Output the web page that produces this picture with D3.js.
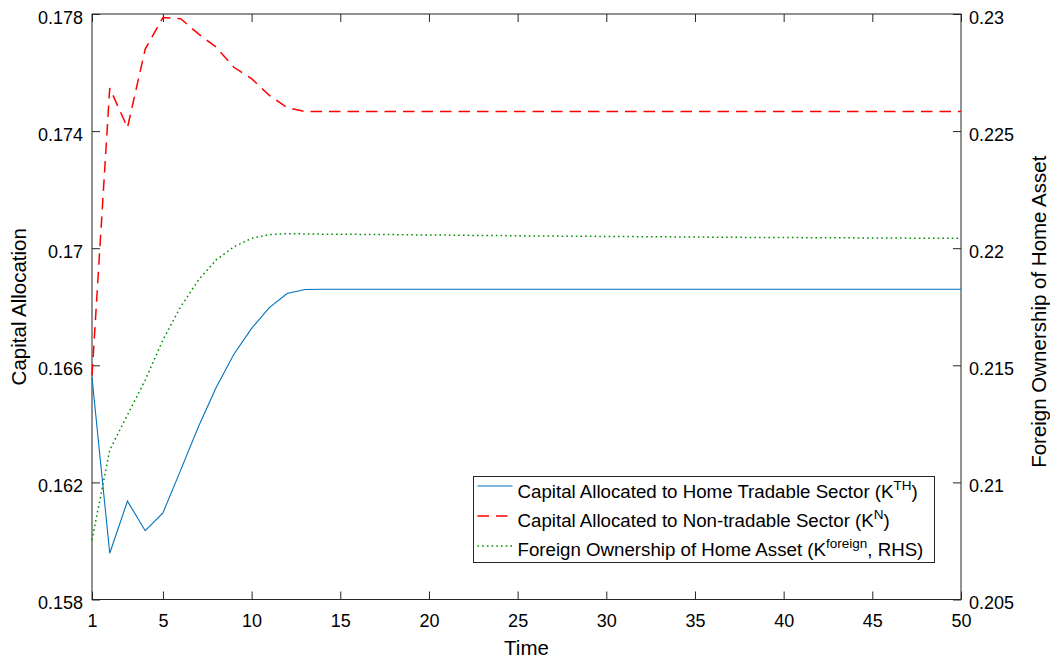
<!DOCTYPE html>
<html>
<head>
<meta charset="utf-8">
<script src="https://cdn.jsdelivr.net/npm/d3@7"></script>
<style>
body { margin: 0; background: #fff; }
svg text { font-family: "Liberation Sans", Arial, Helvetica, sans-serif; fill: #000; }
</style>
</head>
<body>
<svg id="chart" width="1050" height="663"></svg>
<script>
// ---- data ----
const time = d3.range(1, 51);
const kTH = [0.16558, 0.15958, 0.16136, 0.16035, 0.16096, 0.16242, 0.16390, 0.16524, 0.16638, 0.16726,
  0.16797, 0.16845, 0.16859, 0.16860, 0.16860, 0.16860, 0.16860, 0.16860, 0.16860, 0.16860,
  0.16860, 0.16860, 0.16860, 0.16860, 0.16860, 0.16860, 0.16860, 0.16860, 0.16860, 0.16860,
  0.16860, 0.16860, 0.16860, 0.16860, 0.16860, 0.16860, 0.16860, 0.16860, 0.16860, 0.16860,
  0.16860, 0.16860, 0.16860, 0.16860, 0.16860, 0.16860, 0.16860, 0.16860, 0.16860, 0.16860];
const kN = [0.16565, 0.17547, 0.17412, 0.17680, 0.17788, 0.17784, 0.17732, 0.17687, 0.17618, 0.17579,
  0.17522, 0.17480, 0.17467, 0.17467, 0.17467, 0.17467, 0.17467, 0.17467, 0.17467, 0.17467,
  0.17467, 0.17467, 0.17467, 0.17467, 0.17467, 0.17467, 0.17467, 0.17467, 0.17467, 0.17467,
  0.17467, 0.17467, 0.17467, 0.17467, 0.17467, 0.17467, 0.17467, 0.17467, 0.17467, 0.17467,
  0.17467, 0.17467, 0.17467, 0.17467, 0.17467, 0.17467, 0.17467, 0.17467, 0.17467, 0.17467];
const kForeign = [0.20754, 0.21138, 0.21288, 0.21437, 0.21608, 0.21750, 0.21864, 0.21950, 0.22006, 0.22042,
  0.22058, 0.22062, 0.22061, 0.22060, 0.22060, 0.22059, 0.22058, 0.22058, 0.22057, 0.22056,
  0.22056, 0.22055, 0.22054, 0.22054, 0.22053, 0.22052, 0.22052, 0.22051, 0.22051, 0.22050,
  0.22050, 0.22049, 0.22049, 0.22048, 0.22048, 0.22047, 0.22047, 0.22046, 0.22046, 0.22046,
  0.22045, 0.22045, 0.22045, 0.22044, 0.22044, 0.22044, 0.22043, 0.22043, 0.22043, 0.22042];
const xTicks = [1, 5, 10, 15, 20, 25, 30, 35, 40, 45, 50];
const yLeftTicks = [0.158, 0.162, 0.166, 0.17, 0.174, 0.178];
const yRightTicks = [0.205, 0.21, 0.215, 0.22, 0.225, 0.23];
const seriesNames = ["Capital Allocated to Home Tradable Sector (K", "Capital Allocated to Non-tradable Sector (K", "Foreign Ownership of Home Asset (K"];
const seriesSups = ["TH", "N", "foreign"];
const seriesTails = [")", ")", ", RHS)"];

// ---- layout ----
const L = 92, R = 961, T = 14, B = 599.5;
const svg = d3.select("#chart");
const x = d3.scaleLinear().domain([1, 50]).range([L, R]);
const yL = d3.scaleLinear().domain([0.158, 0.178]).range([B, T]);
const yR = d3.scaleLinear().domain([0.205, 0.23]).range([B, T]);

const fs = 18;
const titleFs = 20.5;
const axisColor = "#262626";

svg.append("rect").attr("x", L).attr("y", T).attr("width", R - L).attr("height", B - T)
  .attr("fill", "none").attr("stroke", axisColor).attr("stroke-width", 1);

// bottom axis
const gx = svg.append("g").attr("transform", `translate(0,${B})`)
  .call(d3.axisBottom(x).tickValues(xTicks).tickFormat(d3.format("d")).tickSizeInner(-8).tickSizeOuter(0).tickPadding(15));
gx.select(".domain").remove();
gx.selectAll("line").attr("stroke", axisColor);
gx.selectAll("text").style("font-size", fs + "px");
// top ticks
const gxt = svg.append("g").attr("transform", `translate(0,${T})`)
  .call(d3.axisTop(x).tickValues(xTicks).tickFormat("").tickSizeInner(-8).tickSizeOuter(0));
gxt.select(".domain").remove();
gxt.selectAll("line").attr("stroke", axisColor);

// left axis
const gyl = svg.append("g").attr("transform", `translate(${L},0)`)
  .call(d3.axisLeft(yL).tickValues(yLeftTicks).tickFormat(d => String(+d.toFixed(3))).tickSizeInner(-8).tickSizeOuter(0).tickPadding(9));
gyl.select(".domain").remove();
gyl.selectAll("line").attr("stroke", axisColor);
gyl.selectAll("text").style("font-size", fs + "px").attr("dy", "0.5em");

// right axis
const gyr = svg.append("g").attr("transform", `translate(${R},0)`)
  .call(d3.axisRight(yR).tickValues(yRightTicks).tickFormat(d => String(+d.toFixed(3))).tickSizeInner(-8).tickSizeOuter(0).tickPadding(8));
gyr.select(".domain").remove();
gyr.selectAll("line").attr("stroke", axisColor);
gyr.selectAll("text").style("font-size", fs + "px").attr("dy", "0.5em");

// axis titles
svg.append("text").attr("x", (L + R) / 2).attr("y", 655).attr("text-anchor", "middle")
  .style("font-size", titleFs + "px").text("Time");
svg.append("text").attr("transform", `translate(26,${(T + B) / 2}) rotate(-90)`).attr("text-anchor", "middle")
  .style("font-size", titleFs + "px").text("Capital Allocation");
svg.append("text").attr("transform", `translate(1046,${(T + B) / 2 + 5}) rotate(-90)`).attr("text-anchor", "middle")
  .style("font-size", titleFs + "px").text("Foreign Ownership of Home Asset");

// lines
const styles = [
  { color: "#0072BD", dash: null, width: 1.1 },
  { color: "#FF0000", dash: "11.5,7", width: 1.5 },
  { color: "#009000", dash: "1.6,3.1", width: 1.5 }
];
const lineL = d3.line().x((d, i) => x(time[i])).y(d => yL(d));
const lineR = d3.line().x((d, i) => x(time[i])).y(d => yR(d));
const plot = svg.append("g");
[[kTH, lineL], [kN, lineL], [kForeign, lineR]].forEach(([data, gen], k) => {
  plot.append("path").attr("d", gen(data)).attr("fill", "none")
    .attr("stroke", styles[k].color).attr("stroke-width", styles[k].width)
    .attr("stroke-dasharray", styles[k].dash);
});

// legend
const lg = svg.append("g");
const lx = 473.5, ly = 476.5, lw = 461, lh = 86;
lg.append("rect").attr("x", lx).attr("y", ly).attr("width", lw).attr("height", lh)
  .attr("fill", "#fff").attr("stroke", axisColor).attr("stroke-width", 1);
seriesNames.forEach((name, k) => {
  const cy = 486 + k * 30;
  lg.append("line").attr("x1", lx + 4).attr("x2", lx + 39).attr("y1", cy).attr("y2", cy)
    .attr("stroke", styles[k].color).attr("stroke-width", styles[k].width)
    .attr("stroke-dasharray", styles[k].dash);
  const t = lg.append("text").attr("x", lx + 44).attr("y", 498.3 + k * 28.9).style("font-size", "18.7px");
  t.append("tspan").text(name);
  t.append("tspan").attr("dy", -8).style("font-size", "13.5px").text(seriesSups[k]);
  t.append("tspan").attr("dy", 8).text(seriesTails[k]);
});
</script>
</body>
</html>
